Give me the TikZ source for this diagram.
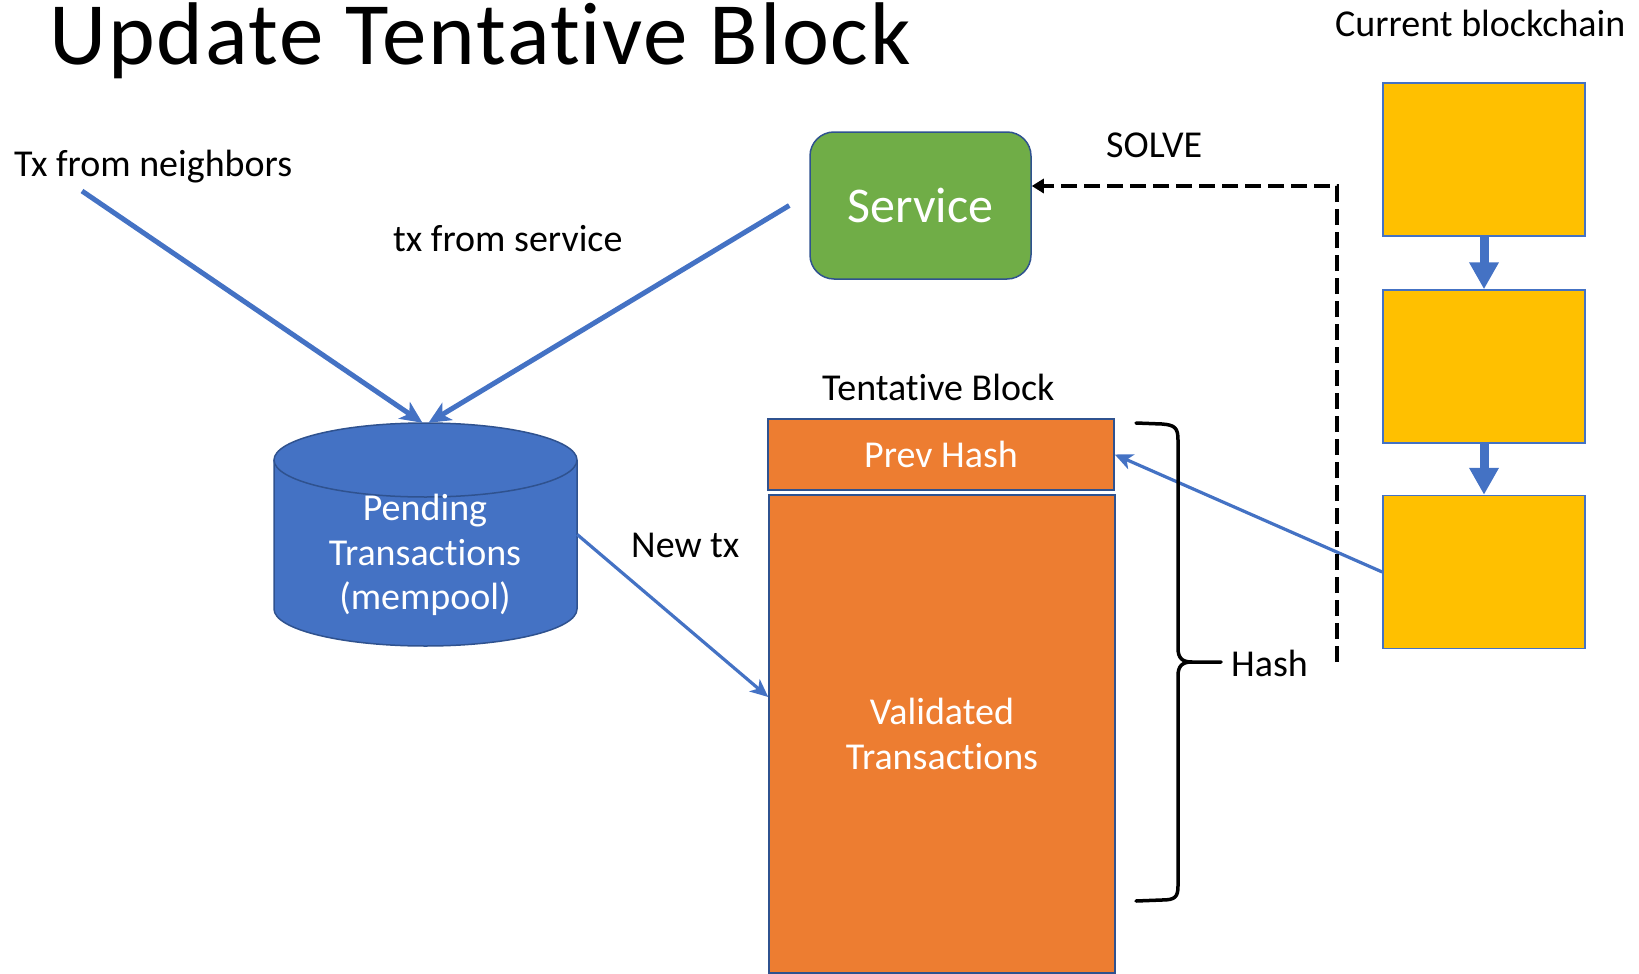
\documentclass[tikz,border=0pt]{standalone}
\usepackage{fontspec}
\setmainfont{Carlito}[RawFeature={-liga;-calt;-clig}]
\usetikzlibrary{arrows.meta,calc}

\definecolor{accentblue}{HTML}{4472C4}
\definecolor{edgeblue}{HTML}{2F528F}
\definecolor{leafgreen}{HTML}{70AD47}
\definecolor{blockorange}{HTML}{ED7D31}
\definecolor{chainyellow}{HTML}{FFC000}

\begin{document}
\begin{tikzpicture}[x=1pt,y=-1pt,
  lbl/.style={inner sep=0pt, anchor=base west, font=\fontsize{38}{45}\selectfont},
  inlbl/.style={inner sep=0pt, anchor=base, text=white, font=\fontsize{38}{45}\selectfont},
  svcbox/.style={draw=edgeblue, line width=1.5pt, fill=leafgreen, rounded corners=24pt,
    minimum width=221pt, minimum height=147pt, text=white, font=\fontsize{50}{60}\selectfont},
  orangebox/.style={draw=edgeblue, line width=1.5pt, fill=blockorange, text=white,
    align=center, font=\fontsize{38}{45}\selectfont},
  chainbox/.style={draw=accentblue, line width=1.5pt, fill=chainyellow,
    minimum width=202pt, minimum height=153pt},
  flow/.style={draw=accentblue, line width=5pt, -{Stealth[length=22pt,width=20pt,inset=6pt]}},
  thinflow/.style={draw=accentblue, line width=3.2pt, -{Stealth[length=18pt,width=16pt,inset=5pt]}},
  linkarrow/.style={draw=accentblue, line width=9pt, -{Triangle[length=27pt,width=28pt]}},
  solveline/.style={draw=black, line width=4.8pt, dash pattern=on 16pt off 7pt,
    -{Triangle[length=12pt,width=14pt]}},
  bracket/.style={draw=black, line width=3.5pt, line cap=round}
]
\useasboundingbox (0,0) rectangle (1639,974);

% title and free labels (a zero kern keeps the t and i apart)
\node[inner sep=0pt, anchor=base west, font=\fontsize{89}{100}\selectfont\addfontfeature{LetterSpace=2}] (title) at (49,65) {Update Tentat\kern0pt ive Block};
\node[lbl] (lblchain) at (1335,37) {Current blockchain};
\node[lbl] (lblneigh) at (14,176) {Tx from neighbors};
\node[lbl] (lblsvc) at (393,251) {tx from service};
\node[lbl] (lblsolve) at (1106,157) {SOLVE};
\node[lbl] (lbltent) at (822,400) {Tentat\kern0pt ive Block};
\node[lbl] (lblnew) at (631,557) {New tx};
\node[lbl] (lblhash) at (1231,676) {Hash};

% mempool cylinder
\fill[accentblue, draw=edgeblue, line width=1.5pt]
  (274,460) -- (274,609) arc[start angle=180, end angle=0, x radius=151.5, y radius=37] -- (577,460);
\filldraw[fill=accentblue, draw=edgeblue, line width=1.5pt] (425.5,460) ellipse[x radius=151.5, y radius=37];
\node[minimum width=303pt, minimum height=223pt, inner sep=0pt] (pool) at (425.5,534.5) {};
\node[inlbl] (pool1) at (425,520) {Pending};
\node[inlbl] (pool2) at (425,565) {Transact\kern0pt ions};
\node[inlbl] (pool3) at (425,609) {(mempool)};

% service
\node[svcbox] (svc) at (920.5,205.5) {Service};

% tentative block
\node[orangebox, minimum width=346pt, minimum height=71pt] (prev) at (941,454.5) {Prev Hash};
\node[orangebox, minimum width=346pt, minimum height=478pt] (valid) at (942,734) {Validated\\Transact\kern0pt ions};

% current blockchain
\node[chainbox] (c1) at (1484,159.5) {};
\node[chainbox] (c2) at (1484,366.5) {};
\node[chainbox] (c3) at (1484,572) {};
\draw[linkarrow] (c1.south) -- (c2.north);
\draw[linkarrow] (c2.south) -- (c3.north);

% incoming transactions
\coordinate (neighsrc) at (82,191);
\draw[flow] (neighsrc) -- ($(pool.north)+(-3,0)$);
\draw[flow] ($(svc.west)+(-20,0)$) -- ($(pool.north)+(3,0)$);
\draw[thinflow] (pool.east) -- ($(valid.west)+(0,-37)$);
\draw[thinflow] (c3.west) -- (prev.east);

% solve loop back to the service
\coordinate (solvesrc) at (1337,662);
\draw[solveline] (solvesrc) |- ($(svc.east)+(0,-19.5)$);

% brace over the hashed part of the block
\draw[bracket] (1136,423) -- (1162,424) .. controls (1175,425) and (1178,428) .. (1178,440)
  -- (1178,648) .. controls (1178,658) and (1182,662) .. (1192,662) -- (1221,662);
\draw[bracket] (1192,662) .. controls (1182,662) and (1178,666) .. (1178,676)
  -- (1178,886) .. controls (1178,897) and (1175,900) .. (1162,900) -- (1136,901);
\end{tikzpicture}
\end{document}
